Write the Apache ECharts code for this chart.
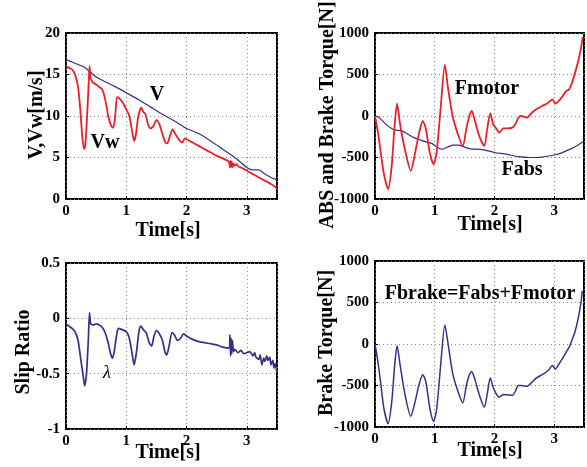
<!DOCTYPE html>
<html>
<head>
<meta charset="utf-8">
<script src="https://cdn.jsdelivr.net/npm/echarts@6/dist/echarts.min.js"></script>
<style>
html,body{margin:0;padding:0;background:#fff;}
#chart{width:587px;height:467px;}
</style>
</head>
<body>
<div id="chart"></div>
<script>
// ---- data (time [s], value) ----
const timeTicks = [0, 1, 2, 3];
const vData = [[0,16.8],[0.1,16.5],[0.2,16.2],[0.3,15.9],[0.4,15.3],[0.5,14.7],[0.6,14.3],[0.8,13.6],[1.0,12.8],[1.2,12.0],[1.4,11.1],[1.6,10.2],[1.8,9.4],[2.0,8.5],[2.2,7.9],[2.4,7.0],[2.6,6.0],[2.8,5.0],[3.0,3.8],[3.1,3.5],[3.2,3.5],[3.3,3.0],[3.4,2.6],[3.5,2.3]];
const vwData = [[0,16.0],[0.05,15.8],[0.1,15.6],[0.15,15.0],[0.2,13.5],[0.24,10.5],[0.27,7.5],[0.3,6.0],[0.32,6.5],[0.35,10.0],[0.38,14.5],[0.39,16.0],[0.41,14.5],[0.45,14.0],[0.5,13.8],[0.55,13.5],[0.6,13.2],[0.65,12.0],[0.7,10.0],[0.75,8.8],[0.78,8.6],[0.81,9.5],[0.85,12.3],[0.9,12.0],[0.95,11.5],[1.0,10.8],[1.05,10.0],[1.1,8.0],[1.13,7.0],[1.16,7.8],[1.2,10.0],[1.25,11.0],[1.28,10.5],[1.32,10.2],[1.36,9.0],[1.4,8.5],[1.45,8.8],[1.5,9.5],[1.55,9.0],[1.6,7.8],[1.65,6.8],[1.68,6.7],[1.72,7.5],[1.77,8.4],[1.8,8.0],[1.85,7.4],[1.9,6.9],[1.93,6.8],[1.97,7.3],[2.0,7.2],[2.1,6.8],[2.2,6.4],[2.3,6.0],[2.4,5.6],[2.5,5.2],[2.6,4.9],[2.7,4.5],[2.72,3.8],[2.73,4.6],[2.74,3.9],[2.75,4.5],[2.76,3.8],[2.78,4.3],[2.8,4.0],[2.83,4.2],[2.86,3.9],[2.9,3.8],[3.0,3.4],[3.1,3.0],[3.2,2.6],[3.3,2.2],[3.4,1.8],[3.5,1.3]];

const fmotorData = [[0,0],[0.05,-200],[0.1,-460],[0.15,-700],[0.22,-880],[0.28,-600],[0.33,-100],[0.37,150],[0.42,-100],[0.5,-400],[0.6,-660],[0.67,-450],[0.74,-200],[0.8,-60],[0.85,-150],[0.92,-450],[0.98,-580],[1.03,-450],[1.1,100],[1.17,620],[1.22,350],[1.3,0],[1.38,-200],[1.47,-360],[1.53,-150],[1.58,0],[1.62,60],[1.67,-50],[1.75,-250],[1.83,-360],[1.88,-150],[1.93,30],[1.98,-100],[2.03,-150],[2.08,-200],[2.15,-150],[2.2,-150],[2.3,-140],[2.35,-100],[2.4,-20],[2.45,0],[2.55,-20],[2.6,20],[2.7,80],[2.8,120],[2.9,160],[2.97,200],[3.02,150],[3.1,200],[3.2,300],[3.25,320],[3.3,400],[3.35,520],[3.4,650],[3.45,820],[3.48,950]];
const fabsData = [[0,0],[0.05,-10],[0.1,-40],[0.2,-110],[0.3,-160],[0.35,-170],[0.45,-180],[0.55,-220],[0.65,-260],[0.8,-300],[0.95,-330],[1.05,-380],[1.12,-400],[1.2,-380],[1.3,-350],[1.4,-350],[1.5,-375],[1.6,-395],[1.8,-405],[2.0,-440],[2.2,-460],[2.4,-490],[2.6,-500],[2.8,-495],[3.0,-470],[3.1,-450],[3.2,-420],[3.3,-390],[3.4,-350],[3.48,-310]];

const slipData = [[0,-0.05],[0.05,-0.07],[0.1,-0.09],[0.15,-0.12],[0.2,-0.2],[0.24,-0.35],[0.28,-0.5],[0.31,-0.61],[0.34,-0.5],[0.37,-0.2],[0.39,0.05],[0.41,-0.05],[0.45,-0.06],[0.5,-0.05],[0.55,-0.06],[0.6,-0.08],[0.65,-0.13],[0.7,-0.22],[0.74,-0.32],[0.77,-0.36],[0.8,-0.3],[0.84,-0.15],[0.87,-0.09],[0.92,-0.1],[1.0,-0.12],[1.05,-0.18],[1.1,-0.33],[1.13,-0.42],[1.17,-0.3],[1.21,-0.12],[1.24,-0.07],[1.28,-0.1],[1.33,-0.13],[1.38,-0.22],[1.42,-0.25],[1.46,-0.16],[1.5,-0.11],[1.55,-0.14],[1.6,-0.2],[1.64,-0.3],[1.67,-0.33],[1.71,-0.25],[1.76,-0.13],[1.8,-0.15],[1.85,-0.2],[1.9,-0.18],[1.95,-0.14],[2.0,-0.16],[2.1,-0.19],[2.2,-0.21],[2.3,-0.22],[2.4,-0.23],[2.5,-0.24],[2.6,-0.26],[2.7,-0.27],[2.72,-0.15],[2.73,-0.34],[2.74,-0.18],[2.75,-0.32],[2.76,-0.2],[2.78,-0.3],[2.8,-0.28],[2.85,-0.31],[2.9,-0.29],[2.95,-0.32],[3.0,-0.31],[3.05,-0.3],[3.1,-0.34],[3.13,-0.31],[3.15,-0.35],[3.2,-0.37],[3.22,-0.33],[3.25,-0.42],[3.28,-0.36],[3.3,-0.39],[3.33,-0.34],[3.35,-0.38],[3.38,-0.35],[3.4,-0.42],[3.43,-0.38],[3.45,-0.45],[3.47,-0.41],[3.5,-0.49]];

const fbrakeData = [[0,0],[0.05,-220],[0.1,-500],[0.15,-780],[0.22,-960],[0.28,-700],[0.33,-250],[0.37,-20],[0.42,-250],[0.5,-600],[0.6,-870],[0.67,-700],[0.74,-480],[0.8,-370],[0.85,-450],[0.92,-780],[0.98,-930],[1.03,-800],[1.1,-250],[1.17,230],[1.22,20],[1.3,-350],[1.38,-550],[1.47,-710],[1.53,-500],[1.58,-370],[1.62,-330],[1.67,-420],[1.75,-620],[1.83,-760],[1.88,-600],[1.93,-410],[1.98,-520],[2.03,-600],[2.08,-640],[2.15,-610],[2.2,-610],[2.3,-620],[2.35,-570],[2.4,-500],[2.45,-500],[2.55,-510],[2.6,-480],[2.7,-410],[2.8,-370],[2.9,-320],[2.97,-260],[3.02,-300],[3.1,-220],[3.2,-100],[3.25,-40],[3.3,50],[3.35,150],[3.4,300],[3.45,500],[3.47,640]];

const yTicksSpeed = [0, 20, 5];
const yTicksForce = [-1000, 1000, 500];
const yTicksSlip = [-1, 0.5, 0.5];

const RED = '#e8202a';
const BLUE = '#3b2c8c';
const FONT = '"Liberation Serif", "Times New Roman", serif';

const grids = [
  {left: 66, top: 33, width: 211, height: 166},
  {left: 375, top: 33, width: 210, height: 166},
  {left: 66, top: 263, width: 211, height: 166},
  {left: 375, top: 261, width: 210, height: 166}
];

const labelStyle = {color: '#000', fontFamily: FONT, fontWeight: 'bold', fontSize: 15};
const splitStyle = {show: true, lineStyle: {color: '#888', type: [1, 3], width: 1}};

function xAx(i) {
  return {
    type: 'value', gridIndex: i, min: 0, max: 3.5, interval: 1,
    axisLine: {show: false, onZero: false},
    axisTick: {show: true, inside: true, length: 3, lineStyle: {color: '#000'}},
    axisLabel: Object.assign({margin: 5, formatter: v => (timeTicks.indexOf(v) >= 0 ? String(v) : '')}, labelStyle),
    splitLine: splitStyle
  };
}
function yAx(i, t) {
  return {
    type: 'value', gridIndex: i, min: t[0], max: t[1], interval: t[2],
    axisLine: {show: false, onZero: false},
    axisTick: {show: true, inside: true, length: 3, lineStyle: {color: '#000'}},
    axisLabel: Object.assign({margin: 6, formatter: v => String(v)}, labelStyle),
    splitLine: splitStyle
  };
}
function line(i, data, color, w) {
  return {
    type: 'line', xAxisIndex: i, yAxisIndex: i, data: data, showSymbol: false,
    symbol: 'none', smooth: 0.25, clip: true, animation: false,
    lineStyle: {color: color, width: w}
  };
}
function txt(x, y, s, size, rot, italic) {
  return {
    type: 'text', x: x, y: y, rotation: rot || 0, z: 100,
    style: {
      text: s, fill: '#000', align: 'center', verticalAlign: 'middle',
      font: (italic ? 'italic ' : 'bold ') + size + 'px ' + FONT
    }
  };
}

const chart = echarts.init(document.getElementById('chart'), null, {renderer: 'canvas'});
chart.setOption({
  animation: false,
  backgroundColor: '#fff',
  grid: grids.map(g => Object.assign({show: true, borderColor: '#000', borderWidth: 2, backgroundColor: 'rgba(0,0,0,0)'}, g)),
  xAxis: [xAx(0), xAx(1), xAx(2), xAx(3)],
  yAxis: [yAx(0, yTicksSpeed), yAx(1, yTicksForce), yAx(2, yTicksSlip), yAx(3, yTicksForce)],
  series: [
    line(0, vData, BLUE, 1.2),
    line(0, vwData, RED, 1.8),
    line(1, fabsData, BLUE, 1.2),
    line(1, fmotorData, RED, 1.8),
    line(2, slipData, BLUE, 1.7),
    line(3, fbrakeData, BLUE, 1.5)
  ],
  graphic: [
    txt(37, 115, 'V,Vw[m/s]', 20, Math.PI / 2),
    txt(328, 115, 'ABS and Brake Torque[N]', 20, Math.PI / 2),
    txt(24, 352, 'Slip Ratio', 20, Math.PI / 2),
    txt(327, 343, 'Brake Torque[N]', 20, Math.PI / 2),
    txt(168, 231, 'Time[s]', 20),
    txt(490, 225, 'Time[s]', 20),
    txt(168, 453, 'Time[s]', 20),
    txt(490, 451, 'Time[s]', 20),
    txt(157, 95, 'V', 20),
    txt(105, 143, 'Vw', 20),
    txt(487, 89, 'Fmotor', 20),
    txt(522, 170, 'Fabs', 20),
    txt(107, 373, 'λ', 18, 0, true),
    txt(480, 294, 'Fbrake=Fabs+Fmotor', 20)
  ]
});
</script>
</body>
</html>
